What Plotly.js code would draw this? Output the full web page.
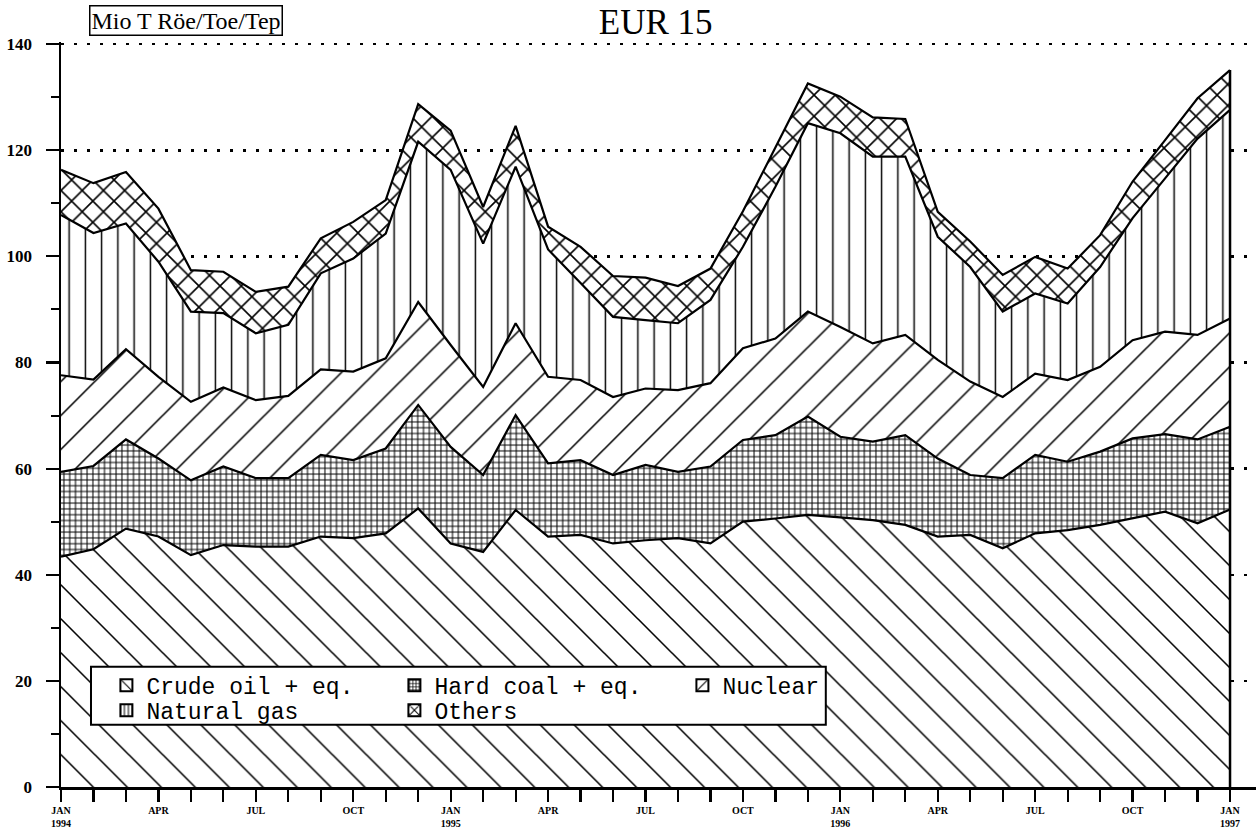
<!DOCTYPE html>
<html><head><meta charset="utf-8">
<script src="https://cdn.plot.ly/plotly-3.0.1.min.js"></script>
<style>html,body{margin:0;padding:0;background:#fff}#chart{width:1256px;height:834px}</style>
</head><body><div id="chart"></div>
<script>
const months = ['Jan 1994','Feb 1994','Mar 1994','Apr 1994','May 1994','Jun 1994','Jul 1994','Aug 1994','Sep 1994','Oct 1994','Nov 1994','Dec 1994',
  'Jan 1995','Feb 1995','Mar 1995','Apr 1995','May 1995','Jun 1995','Jul 1995','Aug 1995','Sep 1995','Oct 1995','Nov 1995','Dec 1995',
  'Jan 1996','Feb 1996','Mar 1996','Apr 1996','May 1996','Jun 1996','Jul 1996','Aug 1996','Sep 1996','Oct 1996','Nov 1996','Dec 1996',
  'Jan 1997'];
const tickLabels = ['<b>JAN</b><br><b>1994</b>','','','<b>APR</b>','','','<b>JUL</b>','','','<b>OCT</b>','','',
  '<b>JAN</b><br><b>1995</b>','','','<b>APR</b>','','','<b>JUL</b>','','','<b>OCT</b>','','',
  '<b>JAN</b><br><b>1996</b>','','','<b>APR</b>','','','<b>JUL</b>','','','<b>OCT</b>','','',
  '<b>JAN</b><br><b>1997</b>'];
const crudeOil = [43.4,44.8,48.7,47.2,43.7,45.6,45.3,45.3,47.2,46.9,47.8,52.5,
  45.9,44.3,52.2,47.2,47.5,45.9,46.5,46.9,45.9,50.0,50.6,51.3,
  50.8,50.3,49.4,47.2,47.5,45.0,47.8,48.4,49.4,50.6,51.9,49.7,
  52.3];
const hardCoal = [16.0,15.7,16.8,14.7,14.1,14.8,12.9,12.9,15.4,14.7,16.0,19.5,
  18.2,14.5,17.9,13.8,14.1,12.9,14.2,12.5,14.5,15.4,15.7,18.5,
  15.2,14.8,16.9,14.7,11.3,13.2,14.8,12.9,13.8,15.1,14.6,15.8,
  15.6];
const nuclear = [18.2,16.3,17.0,15.4,14.8,14.9,14.7,15.5,16.1,16.7,17.0,19.4,
  19.2,16.6,17.3,16.3,15.1,14.7,14.4,15.4,15.7,17.3,18.2,19.8,
  20.7,18.5,18.9,18.6,17.6,15.3,15.3,15.4,16.0,18.5,19.3,19.7,
  20.4];
const naturalGas = [30.2,27.6,23.7,21.7,17.0,14.0,12.6,13.4,18.1,21.3,23.5,30.2,
  33.0,27.0,29.5,24.0,18.3,15.1,12.9,12.6,15.7,19.1,28.6,35.5,
  36.5,35.2,33.6,23.2,21.6,16.1,15.1,14.4,18.8,23.0,28.9,37.0,
  39.3];
const others = [8.5,9.4,9.7,10.0,7.8,7.8,7.8,7.2,6.6,6.9,6.3,7.1,
  7.4,6.9,7.7,4.3,6.8,7.7,8.0,7.0,5.9,6.7,7.4,7.5,
  6.9,7.4,7.1,4.7,4.8,6.9,6.9,6.6,6.0,6.9,7.2,7.6,
  7.5];
const seriesNames = ['Crude oil + eq.','Hard coal + eq.','Nuclear','Natural gas','Others'];
const seriesValues = [crudeOil, hardCoal, nuclear, naturalGas, others];

// styles (kept separate from data)
const styles = [
  {shape:'\\', size:24, solidity:0.065, legSize:10, legSol:0.14, legend:'legend'},
  {shape:'+', size:5.8, solidity:0.32, legSize:4, legSol:0.4, legend:'legend'},
  {shape:'/', size:24, solidity:0.065, legSize:10, legSol:0.14, legend:'legend'},
  {shape:'|', size:16.25, solidity:0.09, legSize:5, legSol:0.25, legend:'legend2'},
  {shape:'x', size:15, solidity:0.2, legSize:8, legSol:0.3, legend:'legend2'}
];

const areaTraces = seriesValues.map((vals, k) => ({
  type:'scatter', mode:'lines', x: months, y: vals, name: seriesNames[k],
  stackgroup:'one', line:{color:'black', width:2.2, shape:'linear'},
  fillcolor:'white',
  fillpattern:{shape: styles[k].shape, size: styles[k].size, solidity: styles[k].solidity,
    fgcolor:'black', bgcolor:'white', fillmode:'replace'},
  showlegend:false, legendgroup:'g' + k, hoverinfo:'skip'
}));
// legend swatches only: one empty (null) value, so nothing is drawn in the plot
const legendTraces = seriesNames.map((nm, k) => ({
  type:'bar', x: [months[0]], y: [null], name: nm, legendgroup:'g' + k, legend: styles[k].legend,
  marker:{color:'white', line:{color:'black', width:2},
    pattern:{shape: styles[k].shape, size: styles[k].legSize, solidity: styles[k].legSol,
      fgcolor:'black', bgcolor:'white', fillmode:'replace'}},
  showlegend:true, hoverinfo:'skip'
}));

const lastIdx = months.length - 1;
const lastTotal = seriesValues.reduce((s, arr) => s + arr[lastIdx], 0);

const serif = 'Liberation Serif, Times New Roman, serif';
const mono = 'Liberation Mono, Courier New, monospace';

const legendCommon = {orientation:'h', xanchor:'left', yanchor:'top', bgcolor:'rgba(0,0,0,0)', borderwidth:0,
  font:{family:mono, size:23, color:'black'}, entrywidth:243, entrywidthmode:'pixels', traceorder:'normal', itemclick:false, itemdoubleclick:false};

const layout = {
  width:1256, height:834,
  margin:{l:61, r:0, t:41.9, b:47},
  paper_bgcolor:'white', plot_bgcolor:'white',
  showlegend:true,
  title:{text:'EUR 15', font:{family:serif, size:35, color:'black'}, x:0.522, xanchor:'center', xref:'container', y:0.974, yanchor:'middle', yref:'container'},
  xaxis:{type:'category', range:[0, 36.8], tickmode:'array', tickvals: months, ticktext: tickLabels,
    ticks:'outside', ticklen:12, tickwidth:2.2, tickcolor:'black', showgrid:false, zeroline:false,
    showline:true, linecolor:'black', linewidth:2.5, tickfont:{family:serif, size:10, color:'black'}, tickangle:0},
  yaxis:{range:[0,140.4], dtick:20, tick0:0, ticks:'outside', ticklen:13, tickwidth:2.2, tickcolor:'black',
    showline:true, linecolor:'black', linewidth:2.5, zeroline:false,
    showgrid:true, gridcolor:'black', gridwidth:2.5, griddash:'2.5px,10.5px',
    minor:{dtick:10, ticks:'outside', ticklen:8, tickwidth:2, tickcolor:'black', showgrid:false},
    ticklabelstandoff:10,
    tickfont:{family:serif, size:17, color:'black', weight:'bold'}},
  legend:Object.assign({}, legendCommon, {x:0.038, y:0.1655}),
  legend2:Object.assign({}, legendCommon, {x:0.038, y:0.1319}),
  shapes:[
    {type:'rect', xref:'paper', yref:'paper', x0:0.0251, x1:0.640, y0:0.0834, y1:0.1615, fillcolor:'white', line:{color:'black', width:2}, layer:'above'},
    {type:'line', xref:'x', yref:'y', x0:lastIdx, x1:lastIdx, y0:0, y1:lastTotal, line:{color:'black', width:2.5}, layer:'above'}
  ],
  annotations:[
    {text:'Mio T Röe/Toe/Tep', xref:'paper', yref:'paper', x:0.0234, xanchor:'left', y:1.0295, yanchor:'middle', showarrow:false,
      font:{family:serif, size:24, color:'black'}, bordercolor:'black', borderwidth:1.5, borderpad:1, bgcolor:'white'}
  ]
};

Plotly.newPlot('chart', areaTraces.concat(legendTraces), layout, {staticPlot:true, displayModeBar:false});
</script></body></html>
